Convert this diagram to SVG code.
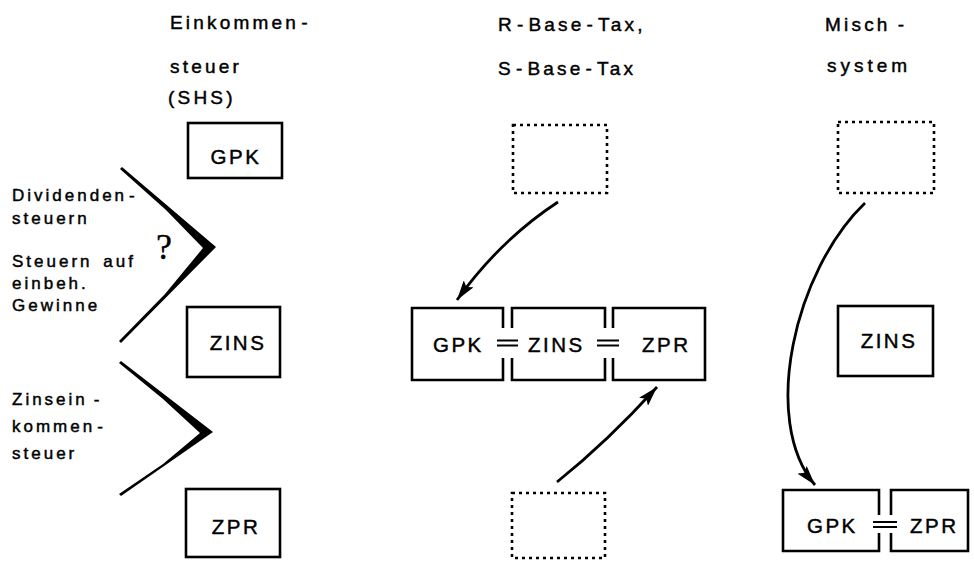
<svg xmlns="http://www.w3.org/2000/svg" width="974" height="561" viewBox="0 0 974 561">
  <style>
    text { fill: #000; stroke: #000; stroke-width: 0.45px; }
    .head { font-family: "Liberation Sans", "DejaVu Sans", sans-serif; font-size: 19px; letter-spacing: 3.2px; }
    .side { font-family: "Liberation Sans", "DejaVu Sans", sans-serif; font-size: 17px; letter-spacing: 3px; }
    .lbl { font-family: "Liberation Sans", "DejaVu Sans", sans-serif; font-size: 20.5px; letter-spacing: 2.5px; }
    .box { fill: none; stroke: #000; stroke-width: 2.6; }
    .dotted { fill: none; stroke: #000; stroke-width: 2.6; stroke-dasharray: 3 4; }
    .eq { stroke: #000; stroke-width: 2; }
    .conn { fill: none; stroke: #000; stroke-width: 2.8; }
    .chev { fill: #000; }
  </style>
  <defs>
    <marker id="head" markerUnits="userSpaceOnUse" markerWidth="21" markerHeight="12" refX="20" refY="6" orient="auto">
      <path d="M0,0 L20,6 L0,12 L4,6 z" fill="#000"/>
    </marker>
  </defs>

  <!-- column headings -->
  <g id="heading-income-tax">
    <text class="head" x="170" y="29">Einkommen<tspan dx="2">-</tspan></text>
    <text class="head" x="170" y="73">steuer</text>
    <text class="head" x="168" y="104">(SHS)</text>
  </g>
  <g id="heading-base-tax">
    <text class="head" x="498" y="31">R<tspan dx="2">-</tspan><tspan dx="2">Base</tspan><tspan dx="2">-</tspan><tspan dx="2">Tax,</tspan></text>
    <text class="head" x="498" y="75">S<tspan dx="2">-</tspan><tspan dx="2">Base</tspan><tspan dx="2">-</tspan><tspan dx="2">Tax</tspan></text>
  </g>
  <g id="heading-mixed">
    <text class="head" x="825" y="31">Misch<tspan dx="7">-</tspan></text>
    <text class="head" x="827" y="72" style="letter-spacing:4px">system</text>
  </g>

  <!-- left column: separate bases -->
  <g id="gpk-1">
    <rect class="box" x="188" y="123" width="94" height="55"/>
    <text class="lbl" x="236" y="164" text-anchor="middle">GPK</text>
  </g>
  <g id="zins-1">
    <rect class="box" x="187" y="307" width="93" height="70"/>
    <text class="lbl" x="238" y="350" text-anchor="middle">ZINS</text>
  </g>
  <g id="zpr-1">
    <rect class="box" x="186" y="489" width="94" height="68"/>
    <text class="lbl" x="236" y="534" text-anchor="middle">ZPR</text>
  </g>

  <!-- brackets with the taxes they stand for -->
  <g id="bracket-dividend">
    <polygon class="chev" points="122,167 216,247 121,343 119,341 165,294 203,248 166,210 120,169"/>
    <text x="156" y="259" style="font-family:'Liberation Serif','DejaVu Serif',serif;font-size:36px;stroke-width:0.3px">?</text>
    <text class="side" x="12" y="201">Dividenden<tspan dx="2">-</tspan></text>
    <text class="side" x="12" y="224">steuern</text>
    <text class="side" x="12" y="267">Steuern <tspan dx="3">auf</tspan></text>
    <text class="side" x="12" y="289">einbeh.</text>
    <text class="side" x="12" y="311">Gewinne</text>
  </g>
  <g id="bracket-interest">
    <polygon class="chev" points="121,361 213,432 121,496 119,494 163,464 200,433 163,399 119,363"/>
    <text class="side" x="12" y="405">Zinsein<tspan dx="6">-</tspan></text>
    <text class="side" x="12" y="432">kommen<tspan dx="2">-</tspan></text>
    <text class="side" x="12" y="459">steuer</text>
  </g>

  <!-- middle column: R-/S-base tax -->
  <g id="empty-top-2">
    <rect class="dotted" x="513" y="125" width="94" height="68"/>
  </g>
  <g id="combined-2">
    <path class="box" d="M503,328 V308 H412 V380 H503 V358"/>
    <path class="box" d="M512,328 V308 H605 V328 M605,358 V380 H512 V358"/>
    <path class="box" d="M613,328 V308 H705 V380 H613 V358"/>
    <line class="eq" x1="497" y1="340.5" x2="518" y2="340.5"/>
    <line class="eq" x1="497" y1="345.5" x2="518" y2="345.5"/>
    <line class="eq" x1="597" y1="340.5" x2="619" y2="340.5"/>
    <line class="eq" x1="597" y1="345.5" x2="619" y2="345.5"/>
    <text class="lbl" x="433" y="352">GPK</text>
    <text class="lbl" x="528" y="352">ZINS</text>
    <text class="lbl" x="642" y="352">ZPR</text>
  </g>
  <g id="empty-bottom-2">
    <rect class="dotted" x="512" y="493" width="93" height="65"/>
  </g>

  <!-- right column: mixed system -->
  <g id="empty-top-3">
    <rect class="dotted" x="838" y="122" width="96" height="71"/>
  </g>
  <g id="zins-3">
    <rect class="box" x="838" y="306" width="95" height="70"/>
    <text class="lbl" x="889" y="348" text-anchor="middle">ZINS</text>
  </g>
  <g id="combined-3">
    <path class="box" d="M879,515 V490 H783 V551 H879 V533"/>
    <path class="box" d="M891,515 V490 H968 V551 H891 V533"/>
    <line class="eq" x1="873" y1="522" x2="897" y2="522"/>
    <line class="eq" x1="873" y1="527" x2="897" y2="527"/>
    <text class="lbl" x="807" y="533">GPK</text>
    <text class="lbl" x="910" y="533">ZPR</text>
  </g>

  <!-- connectors -->
  <g id="connectors">
    <path class="conn" d="M558,202 Q500,240 457,300" marker-end="url(#head)"/>
    <path class="conn" d="M557,482 Q607,442 657,387" marker-end="url(#head)"/>
    <path class="conn" d="M865,203 C795,270 760,420 815,485" marker-end="url(#head)"/>
  </g>
</svg>
